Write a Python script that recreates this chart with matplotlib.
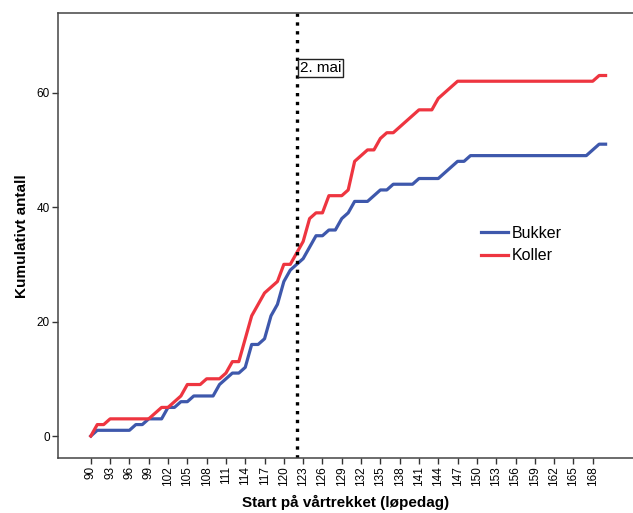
import numpy as np
import matplotlib
matplotlib.use('Agg')
import matplotlib.pyplot as plt

plt.rcParams['font.family'] = ['Liberation Sans', 'DejaVu Sans']

# løpedag 90..170
dager = list(range(90, 171))

bukker = [0, 1, 1, 1, 1, 1, 1, 2, 2, 3,        # 90-99
          3, 3, 5, 5, 6, 6, 7, 7, 7, 7,        # 100-109
          9, 10, 11, 11, 12, 16, 16, 17, 21, 23,  # 110-119
          27, 29, 30, 31, 33, 35, 35, 36, 36, 38,  # 120-129
          39, 41, 41, 41, 42, 43, 43, 44, 44, 44,  # 130-139
          44, 45, 45, 45, 45, 46, 47, 48, 48, 49,  # 140-149
          49, 49, 49, 49, 49, 49, 49, 49, 49, 49,  # 150-159
          49, 49, 49, 49, 49, 49, 49, 49, 50, 51,  # 160-169
          51]                                      # 170

koller = [0, 2, 2, 3, 3, 3, 3, 3, 3, 3,        # 90-99
          4, 5, 5, 6, 7, 9, 9, 9, 10, 10,      # 100-109
          10, 11, 13, 13, 17, 21, 23, 25, 26, 27,  # 110-119
          30, 30, 32, 34, 38, 39, 39, 42, 42, 42,  # 120-129
          43, 48, 49, 50, 50, 52, 53, 53, 54, 55,  # 130-139
          56, 57, 57, 57, 59, 60, 61, 62, 62, 62,  # 140-149
          62, 62, 62, 62, 62, 62, 62, 62, 62, 62,  # 150-159
          62, 62, 62, 62, 62, 62, 62, 62, 62, 63,  # 160-169
          63]                                      # 170

x_ticks = list(range(90, 169, 3))
y_ticks = [0, 20, 40, 60]
ref_dag = 122
ref_tekst = '2. mai'

fig = plt.figure(figsize=(6.33, 5.13), dpi=100)
ax = fig.add_axes([58 / 633, 55 / 513, 575 / 633, 444.7 / 513])

ax.plot(dager, bukker, color='#3e58ac', lw=2.3, label='Bukker', solid_joinstyle='round')
ax.plot(dager, koller, color='#ee3540', lw=2.3, label='Koller', solid_joinstyle='round')

ax.axvline(ref_dag, color='black', lw=2.4, linestyle=':')
ax.text(ref_dag + 0.55, 64.3, ref_tekst, fontsize=11, ha='left', va='center',
        bbox=dict(boxstyle='square,pad=0.12', facecolor='white', edgecolor='#222222', lw=1))

ax.set_xlim(84.9, 174.26)
ax.set_ylim(-3.84, 73.87)
ax.set_xticks(x_ticks)
ax.set_xticklabels([str(t) for t in x_ticks], rotation=90, fontsize=8.5)
ax.set_yticks(y_ticks)
ax.set_yticklabels([str(t) for t in y_ticks], fontsize=8.5)
ax.tick_params(direction='out', length=4, width=1, color='#333333', pad=2)

for side in ['left', 'top', 'bottom']:
    ax.spines[side].set_color('#444444')
    ax.spines[side].set_linewidth(1.1)
ax.spines['right'].set_visible(False)

ax.set_xlabel('Start på vårtrekket (løpedag)', fontsize=11, fontweight='bold', labelpad=6)
ax.set_ylabel('Kumulativt antall', fontsize=11, fontweight='bold', labelpad=5)

ax.legend(loc='upper left', bbox_to_anchor=(481 / 633, 1 - 226 / 513),
          bbox_transform=fig.transFigure, frameon=False, fontsize=11.5,
          handlelength=1.7, handletextpad=0.2, labelspacing=0.45,
          borderpad=0, borderaxespad=0)

fig.savefig('out.png', dpi=100)
